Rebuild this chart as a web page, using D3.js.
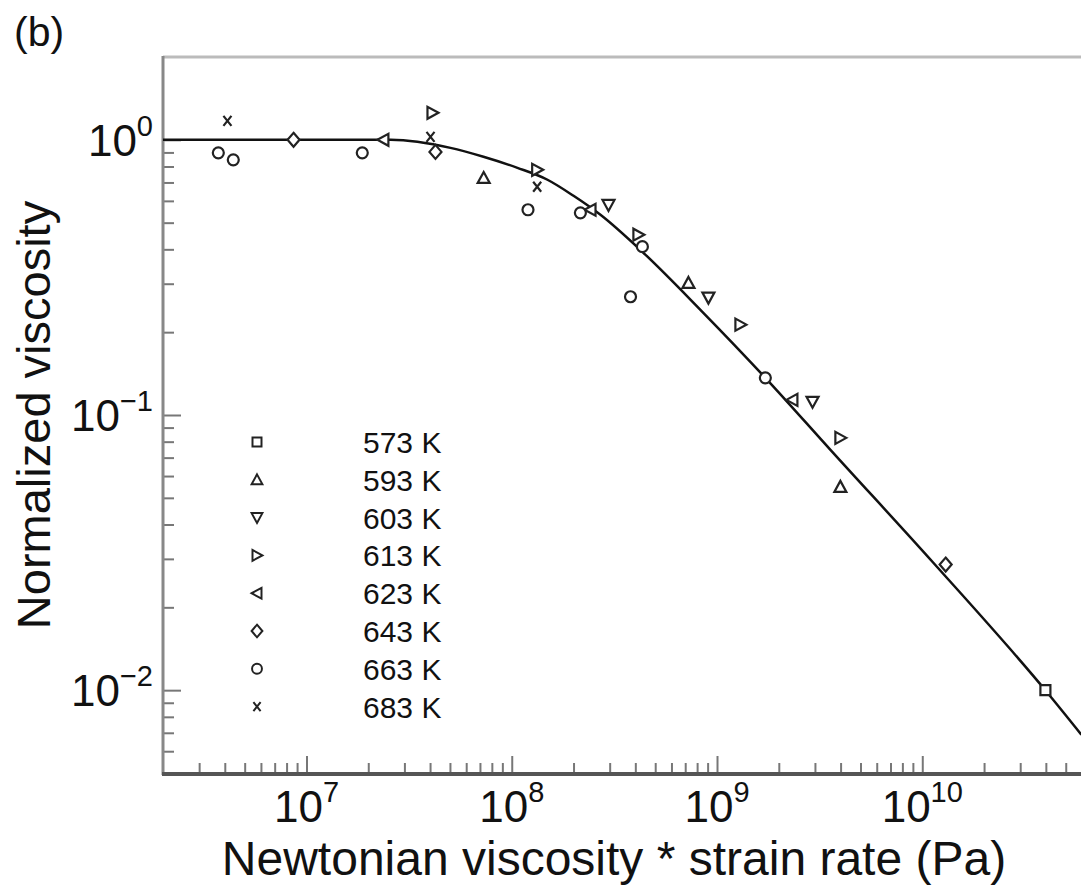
<!DOCTYPE html>
<html>
<head>
<meta charset="utf-8">
<script src="https://cdn.jsdelivr.net/npm/d3@7"></script>
<style>
    body { margin: 0; background: #fff; }
    svg { display: block; }
    text { font-family: "Liberation Sans", Arial, sans-serif; fill: #111; }
</style>
</head>
<body>
<svg id="chart" width="1081" height="886"></svg>
<script>
    // Data (x = Newtonian viscosity * strain rate, y = normalized viscosity)
    const temps = ['573 K', '593 K', '603 K', '613 K', '623 K', '643 K', '663 K', '683 K'];
    const shapes = ['square', 'triUp', 'triDown', 'triRight', 'triLeft', 'diamond', 'circle', 'cross'];

    const s573 = [[3.98e10, 0.0100]];
    const s593 = [[7.3e7, 0.727], [7.26e8, 0.302], [3.99e9, 0.0548]];
    const s603 = [[2.96e8, 0.580], [9.08e8, 0.267], [2.92e9, 0.1117]];
    const s613 = [[4.11e7, 1.254], [1.33e8, 0.778], [4.14e8, 0.452], [1.30e9, 0.213], [3.99e9, 0.0826]];
    const s623 = [[2.37e7, 1.0], [2.42e8, 0.557], [2.33e9, 0.1135]];
    const s643 = [[8.65e6, 1.0], [4.25e7, 0.904], [1.30e10, 0.0286]];
    const s663 = [[3.72e6, 0.897], [4.4e6, 0.846], [1.87e7, 0.897], [1.2e8, 0.557], [2.16e8, 0.543],
                  [4.33e8, 0.409], [3.79e8, 0.269], [1.72e9, 0.1365]];
    const s683 = [[4.12e6, 1.172], [4.02e7, 1.025], [1.33e8, 0.675]];
    const series = [s573, s593, s603, s613, s623, s643, s663, s683];

    // Fitted master curve
    const curveX = [2e6, 2.57e7, 5.03e7, 7.28e7, 1.066e8, 1.493e8, 2.0e8, 2.705e8, 4.38e8,
                    8.3e8, 1.72e9, 3.57e9, 1.132e10, 4.07e10, 5.96e10];
    const curveY = [1.0, 1.0, 0.935, 0.868, 0.791, 0.716, 0.626, 0.534, 0.3886,
                    0.2412, 0.1365, 0.0747, 0.02904, 0.00979, 0.00689];

    // Ticks
    const xMajor = [1e7, 1e8, 1e9, 1e10];
    const xMajorExp = ['7', '8', '9', '10'];
    const yMajor = [1, 0.1, 0.01];
    const yMajorExp = ['0', '-1', '-2'];

    const svg = d3.select('#chart');
    const x = d3.scaleLog().domain([2e6, 6e10]).range([163, 1082]);
    const y = d3.scaleLog().domain([0.005, 2]).range([773, 57]);

    // minor ticks between decades
    const xMinor = [];
    for (let e = 6; e <= 10; e++) for (let m = 2; m <= 9; m++) {
        const v = m * Math.pow(10, e);
        if (v > 2e6 && v < 6e10) xMinor.push(v);
    }
    const yMinor = [];
    for (let e = -3; e <= 0; e++) for (let m = 2; m <= 9; m++) {
        const v = m * Math.pow(10, e);
        if (v > 0.005 && v < 2) yMinor.push(v);
    }

    // Frame
    svg.append('line').attr('x1', 163).attr('x2', 1081).attr('y1', 57).attr('y2', 57)
        .attr('stroke', '#bbb').attr('stroke-width', 3);

    function styleAxis(g) {
        g.select('.domain').remove();
        g.selectAll('.tick line').attr('stroke', '#777').attr('stroke-width', 2);
    }

    svg.append('g').attr('transform', 'translate(163,0)')
        .call(d3.axisLeft(y).tickValues(yMinor).tickSize(-11).tickFormat(''))
        .call(styleAxis);
    svg.append('g').attr('transform', 'translate(163,0)')
        .call(d3.axisLeft(y).tickValues(yMajor).tickSize(-18).tickFormat(''))
        .call(styleAxis);
    svg.append('g').attr('transform', 'translate(0,773)')
        .call(d3.axisBottom(x).tickValues(xMinor).tickSize(-10).tickFormat(''))
        .call(styleAxis);
    svg.append('g').attr('transform', 'translate(0,773)')
        .call(d3.axisBottom(x).tickValues(xMajor).tickSize(-17).tickFormat(''))
        .call(styleAxis);

    svg.append('line').attr('x1', 163).attr('x2', 163).attr('y1', 56).attr('y2', 775)
        .attr('stroke', '#888').attr('stroke-width', 3);
    svg.append('line').attr('x1', 162).attr('x2', 1081).attr('y1', 774).attr('y2', 774)
        .attr('stroke', '#555').attr('stroke-width', 4);

    // Tick labels (10 with superscript exponent)
    xMajor.forEach((v, i) => {
        const t = svg.append('text').attr('x', x(v)).attr('y', 822)
            .attr('text-anchor', 'middle').attr('font-size', 44);
        t.append('tspan').text('10');
        t.append('tspan').attr('font-size', 29).attr('dy', -20).text(xMajorExp[i]);
    });
    yMajor.forEach((v, i) => {
        const t = svg.append('text').attr('x', 153).attr('y', y(v) + 16)
            .attr('text-anchor', 'end').attr('font-size', 44);
        t.append('tspan').text('10');
        t.append('tspan').attr('font-size', 29).attr('dy', -20)
            .text(yMajorExp[i].replace('-', '\u2212'));
    });

    // Axis titles
    svg.append('text').attr('x', 614).attr('y', 875).attr('text-anchor', 'middle')
        .attr('font-size', 48).text('Newtonian viscosity * strain rate (Pa)');
    svg.append('text').attr('transform', 'translate(50,415) rotate(-90)')
        .attr('text-anchor', 'middle').attr('font-size', 47).text('Normalized viscosity');
    svg.append('text').attr('x', 14).attr('y', 46).attr('font-size', 41).text('(b)');

    // Curve
    svg.append('clipPath').attr('id', 'plot-clip').append('rect')
        .attr('x', 163).attr('y', 57).attr('width', 920).attr('height', 716);
    const line = d3.line().x(d => x(d[0])).y(d => y(d[1])).curve(d3.curveMonotoneX);
    svg.append('path').datum(curveX.map((v, i) => [v, curveY[i]]))
        .attr('clip-path', 'url(#plot-clip)')
        .attr('d', line).attr('fill', 'none').attr('stroke', '#111').attr('stroke-width', 2.5);

    // Marker shapes
    function markerPath(shape) {
        switch (shape) {
            case 'square': return 'M-5,-5H5V5H-5Z';
            case 'triUp': return 'M0,-6L6,5H-6Z';
            case 'triDown': return 'M0,6L6,-5H-6Z';
            case 'triRight': return 'M6,0L-5,-6V6Z';
            case 'triLeft': return 'M-6,0L5,-6V6Z';
            case 'diamond': return 'M0,-7L6,0L0,7L-6,0Z';
            case 'circle': return 'M5.5,0A5.5,5.5,0,1,1,-5.5,0A5.5,5.5,0,1,1,5.5,0Z';
            default: return 'M-4,-5L4,5M4,-5L-4,5';
        }
    }

    const markers = svg.append('g');
    series.forEach((pts, i) => {
        markers.selectAll(null).data(pts).join('path')
            .attr('transform', d => `translate(${x(d[0])},${y(d[1])})`)
            .attr('d', markerPath(shapes[i]))
            .attr('fill', shapes[i] === 'cross' ? 'none' : '#fff')
            .attr('stroke', '#222').attr('stroke-width', 2.2);
    });

    // Legend
    const legend = svg.append('g');
    temps.forEach((t, i) => {
        const cy = 442 + i * 37.8;
        legend.append('path').attr('transform', `translate(257,${cy})scale(0.9)`)
            .attr('d', markerPath(shapes[i]))
            .attr('fill', shapes[i] === 'cross' ? 'none' : '#fff')
            .attr('stroke', '#222').attr('stroke-width', 2.2);
        legend.append('text').attr('x', 363).attr('y', cy + 11).attr('font-size', 30).text(t);
    });
</script>
</body>
</html>
